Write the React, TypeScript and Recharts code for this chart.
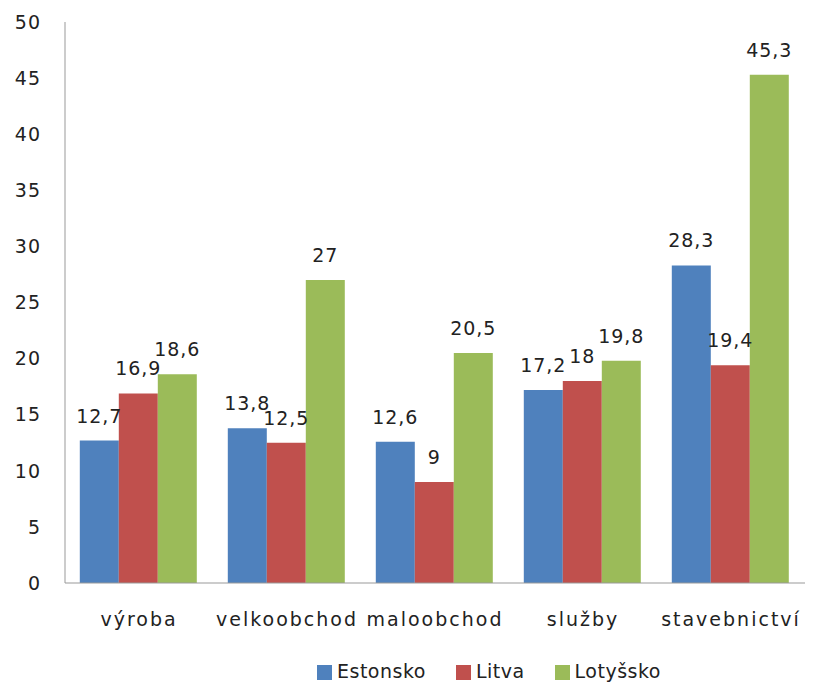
import { BarChart, Bar, XAxis, YAxis, Legend, LabelList } from "recharts";

const categories = ["výroba", "velkoobchod", "maloobchod", "služby", "stavebnictví"];
const estonsko = [12.7, 13.8, 12.6, 17.2, 28.3];
const litva = [16.9, 12.5, 9, 18, 19.4];
const lotyssko = [18.6, 27, 20.5, 19.8, 45.3];
const yTicks = [0, 5, 10, 15, 20, 25, 30, 35, 40, 45, 50];

const data = categories.map((name, i) => ({
  name,
  Estonsko: estonsko[i],
  Litva: litva[i],
  "Lotyšsko": lotyssko[i],
}));

const font = "'DejaVu Sans', Verdana, sans-serif";
const fmt = (v: any) => String(v).replace(".", ",");
const txt = { fontSize: 19, fill: "#222", fontFamily: font, letterSpacing: 1 };
const catTxt = { ...txt, letterSpacing: 2 };

export default function App() {
  return (
    <div style={{ position: "absolute", left: 0, top: 0, background: "#fff" }}>
      <BarChart
        width={813}
        height={685}
        data={data}
        margin={{ top: 22, right: 8, bottom: 0, left: 0 }}
        barCategoryGap="10%"
        barGap={0}
        style={{ fontFamily: font }}
      >
        <YAxis
          domain={[0, 50]}
          ticks={yTicks}
          width={65}
          tickLine={false}
          axisLine={{ stroke: "#999" }}
          tickMargin={18}
          tick={txt}
        />
        <XAxis
          dataKey="name"
          height={72}
          tickLine={false}
          axisLine={{ stroke: "#999" }}
          tickMargin={24}
          tick={catTxt}
        />
        <Legend
          verticalAlign="bottom"
          iconType="square"
          iconSize={15}
          height={30}
          wrapperStyle={{
            fontSize: 19,
            lineHeight: "24px",
            color: "#222",
            fontFamily: font,
            letterSpacing: 0.5,
            bottom: -4,
            left: 317,
            width: "auto",
          }}
          formatter={(v: any) => (
            <span style={{ color: "#222", marginLeft: 1, marginRight: 20 }}>{v}</span>
          )}
        />
        <Bar dataKey="Estonsko" fill="#4F81BD" isAnimationActive={false}>
          <LabelList dataKey="Estonsko" position="top" offset={18} formatter={fmt} style={txt} />
        </Bar>
        <Bar dataKey="Litva" fill="#C0504D" isAnimationActive={false}>
          <LabelList dataKey="Litva" position="top" offset={18} formatter={fmt} style={txt} />
        </Bar>
        <Bar dataKey="Lotyšsko" fill="#9BBB59" isAnimationActive={false}>
          <LabelList dataKey="Lotyšsko" position="top" offset={18} formatter={fmt} style={txt} />
        </Bar>
      </BarChart>
    </div>
  );
}
